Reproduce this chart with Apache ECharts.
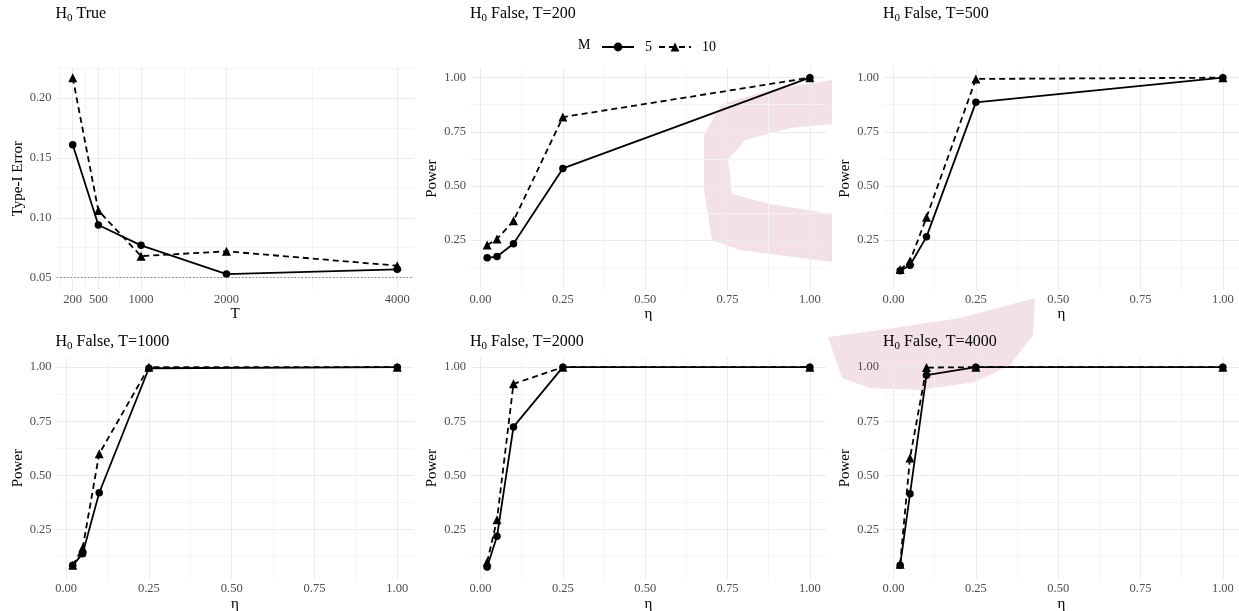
<!DOCTYPE html>
<html>
<head>
<meta charset="utf-8">
<script src="https://cdn.jsdelivr.net/npm/echarts@6/dist/echarts.min.js"></script>
<style>
  html, body { margin: 0; padding: 0; background: #ffffff; }
  #chart { width: 1239px; height: 611px; }
</style>
</head>
<body>
<div id="chart"></div>
<script>
// ---- data ----
const T_VALUES = [200, 500, 1000, 2000, 4000];
const ETA_VALUES = [0.02, 0.05, 0.1, 0.25, 1];

const TYPE1_M5  = [0.161, 0.094, 0.077, 0.053, 0.057];
const TYPE1_M10 = [0.217, 0.106, 0.068, 0.072, 0.060];
const NOMINAL_LEVEL = 0.05;

const POWER_T200_M5   = [0.168, 0.174, 0.233, 0.581, 1.000];
const POWER_T200_M10  = [0.227, 0.255, 0.339, 0.818, 1.000];
const POWER_T500_M5   = [0.108, 0.134, 0.265, 0.886, 1.000];
const POWER_T500_M10  = [0.114, 0.153, 0.355, 0.994, 1.000];
const POWER_T1000_M5  = [0.085, 0.139, 0.420, 0.995, 1.000];
const POWER_T1000_M10 = [0.085, 0.165, 0.600, 1.000, 1.000];
const POWER_T2000_M5  = [0.077, 0.219, 0.724, 1.000, 1.000];
const POWER_T2000_M10 = [0.100, 0.296, 0.923, 1.000, 1.000];
const POWER_T4000_M5  = [0.085, 0.415, 0.963, 1.000, 1.000];
const POWER_T4000_M10 = [0.090, 0.581, 0.998, 1.000, 1.000];

// ---- tick labels / breaks ----
const T_TICKS = [200, 500, 1000, 2000, 4000];
const T_MINOR = [50, 350, 750, 1500, 3000];
const TYPE1_TICKS = [0.05, 0.10, 0.15, 0.20];
const TYPE1_MINOR = [0.075, 0.125, 0.175, 0.225];
const ETA_TICKS = [0, 0.25, 0.5, 0.75, 1];
const ETA_MINOR = [0.125, 0.375, 0.625, 0.875];
const POWER_TICKS = [0.25, 0.5, 0.75, 1];
const POWER_MINOR = [0.125, 0.375, 0.625, 0.875];

const M_LEVELS = ['5', '10'];

// ---- panel definitions ----
const panels = [
  { title: ['H', '0', ' True'], x: T_VALUES, m5: TYPE1_M5, m10: TYPE1_M10, type1: true },
  { title: ['H', '0', ' False, T=200'],  x: ETA_VALUES, m5: POWER_T200_M5,  m10: POWER_T200_M10 },
  { title: ['H', '0', ' False, T=500'],  x: ETA_VALUES, m5: POWER_T500_M5,  m10: POWER_T500_M10 },
  { title: ['H', '0', ' False, T=1000'], x: ETA_VALUES, m5: POWER_T1000_M5, m10: POWER_T1000_M10 },
  { title: ['H', '0', ' False, T=2000'], x: ETA_VALUES, m5: POWER_T2000_M5, m10: POWER_T2000_M10 },
  { title: ['H', '0', ' False, T=4000'], x: ETA_VALUES, m5: POWER_T4000_M5, m10: POWER_T4000_M10 }
];

// ---- layout ----
const SERIF = 'Liberation Serif';
const COLS = [{ left: 56.5, width: 357 }, { left: 471, width: 355 }, { left: 884, width: 355 }];
const ROWS = [{ top: 67.5, height: 222.4, titleTop: 3.6 }, { top: 357, height: 222.4, titleTop: 331.3 }];
const MAJOR_GRID = '#ebebeb';
const MINOR_GRID = '#f4f4f4';
const AXIS_TEXT = '#4d4d4d';
const TICK_FONT = 12.5;
const NAME_FONT = 15;

function expand(lo, hi) { const d = (hi - lo) * 0.05; return [lo - d, hi + d]; }
const T_LIMITS = expand(200, 4000);
const ETA_LIMITS = expand(0.02, 1);
const TYPE1_LIMITS = [0.0398, 0.2255];
const POWER_LIMITS = [0.02, 1.047];

const zip = (xs, ys) => xs.map((x, i) => [x, ys[i]]);

const grid = [], xAxis = [], yAxis = [], series = [], title = [];

panels.forEach((p, i) => {
  const col = COLS[i % 3], row = ROWS[Math.floor(i / 3)];
  grid.push({ left: col.left, top: row.top, width: col.width, height: row.height,
              containLabel: false, outerBoundsMode: 'none', z: 2 });

  title.push({
    text: '{h|' + p.title[0] + '}{s|' + p.title[1] + '}{h|' + p.title[2] + '}',
    left: col.left - 1, top: row.titleTop, padding: 0,
    textStyle: {
      fontWeight: 'normal',
      rich: {
        h: { fontFamily: SERIF, fontSize: 16, fontWeight: 'normal', color: '#000', lineHeight: 20 },
        s: { fontFamily: SERIF, fontSize: 11, fontWeight: 'normal', color: '#000', lineHeight: 13, verticalAlign: 'bottom' }
      }
    }
  });

  const xMajor = p.type1 ? T_TICKS : ETA_TICKS;
  const xMinor = p.type1 ? T_MINOR : ETA_MINOR;
  const yMajor = p.type1 ? TYPE1_TICKS : POWER_TICKS;
  const yMinor = p.type1 ? TYPE1_MINOR : POWER_MINOR;
  const xLim = p.type1 ? T_LIMITS : ETA_LIMITS;
  const yLim = p.type1 ? TYPE1_LIMITS : POWER_LIMITS;

  // major x axis (labels + major grid)
  xAxis.push({
    type: 'value', gridIndex: i, min: xLim[0], max: xLim[1],
    name: p.type1 ? 'T' : 'η', nameLocation: 'middle', nameGap: 13,
    nameTextStyle: { fontFamily: SERIF, fontSize: NAME_FONT, color: '#000' },
    axisLine: { show: false },
    axisTick: { show: false, customValues: xMajor },
    axisLabel: { customValues: xMajor, margin: 3, color: AXIS_TEXT, fontFamily: SERIF, fontSize: TICK_FONT,
                 formatter: v => p.type1 ? String(v) : v.toFixed(2) },
    splitLine: { show: true, lineStyle: { color: MAJOR_GRID, width: 1 } },
    z: 1
  });
  // minor x axis (grid only)
  xAxis.push({
    type: 'value', gridIndex: i, min: xLim[0], max: xLim[1], show: true,
    axisLine: { show: false }, axisTick: { show: false, customValues: xMinor },
    axisLabel: { show: false },
    splitLine: { show: true, lineStyle: { color: MINOR_GRID, width: 1 } },
    z: 0
  });
  yAxis.push({
    type: 'value', gridIndex: i, min: yLim[0], max: yLim[1],
    name: p.type1 ? 'Type-I Error' : 'Power', nameLocation: 'middle', nameGap: 31, nameRotate: 90,
    nameTextStyle: { fontFamily: SERIF, fontSize: NAME_FONT, color: '#000' },
    axisLine: { show: false },
    axisTick: { show: false, customValues: yMajor },
    axisLabel: { customValues: yMajor, margin: 5, color: AXIS_TEXT, fontFamily: SERIF, fontSize: TICK_FONT,
                 formatter: v => v.toFixed(2) },
    splitLine: { show: true, lineStyle: { color: MAJOR_GRID, width: 1 } },
    z: 1
  });
  yAxis.push({
    type: 'value', gridIndex: i, min: yLim[0], max: yLim[1], show: true,
    axisLine: { show: false }, axisTick: { show: false, customValues: yMinor },
    axisLabel: { show: false },
    splitLine: { show: true, lineStyle: { color: MINOR_GRID, width: 1 } },
    z: 0
  });

  const s5 = {
    name: M_LEVELS[0], type: 'line', xAxisIndex: 2 * i, yAxisIndex: 2 * i,
    data: zip(p.x, p.m5), symbol: 'circle', symbolSize: 7.5,
    lineStyle: { color: '#000', width: 1.8, type: 'solid' },
    itemStyle: { color: '#000' }, z: 3
  };
  const s10 = {
    name: M_LEVELS[1], type: 'line', xAxisIndex: 2 * i, yAxisIndex: 2 * i,
    data: zip(p.x, p.m10), symbol: 'triangle', symbolSize: 9,
    lineStyle: { color: '#000', width: 1.8, type: [6, 4] },
    itemStyle: { color: '#000' }, z: 3
  };
  if (p.type1) {
    s5.markLine = {
      silent: true, symbol: 'none', animation: false,
      label: { show: false },
      lineStyle: { color: '#808080', type: [1.5, 2], width: 1 },
      data: [{ yAxis: NOMINAL_LEVEL }]
    };
  }
  series.push(s5, s10);
});

// faint brush-stroke backdrop shapes
const WASH = '#f3e1e7';
const backdrop = [
  [[832, 80], [770, 90], [722, 104], [704, 135], [704, 190], [712, 240], [740, 250], [832, 262],
   [832, 214], [770, 204], [732, 194], [728, 160], [745, 140], [790, 128], [832, 124]],
  [[828, 337], [880, 330], [960, 318], [1035, 298], [1033, 335], [1010, 365], [975, 382],
   [920, 390], [870, 388], [842, 378]]
].map(pts => ({
  type: 'polygon', silent: true, z: -10,
  shape: { points: pts },
  style: { fill: WASH }
}));

const chart = echarts.init(document.getElementById('chart'), null, { renderer: 'canvas' });
chart.setOption({
  backgroundColor: '#ffffff',
  animation: false,
  title,
  grid, xAxis, yAxis, series,
  legend: {
    data: M_LEVELS, left: 601, top: 40, padding: 0, itemWidth: 32, itemHeight: 11, itemGap: 6,
    textStyle: { fontFamily: SERIF, fontSize: 14, color: '#000', padding: [0, 0, 0, 6] }
  },
  graphic: backdrop.concat([{
    type: 'text', left: 578, top: 38.5,
    style: { text: 'M', font: '14px "Liberation Serif"', fill: '#000' }
  }])
});
</script>
</body>
</html>
